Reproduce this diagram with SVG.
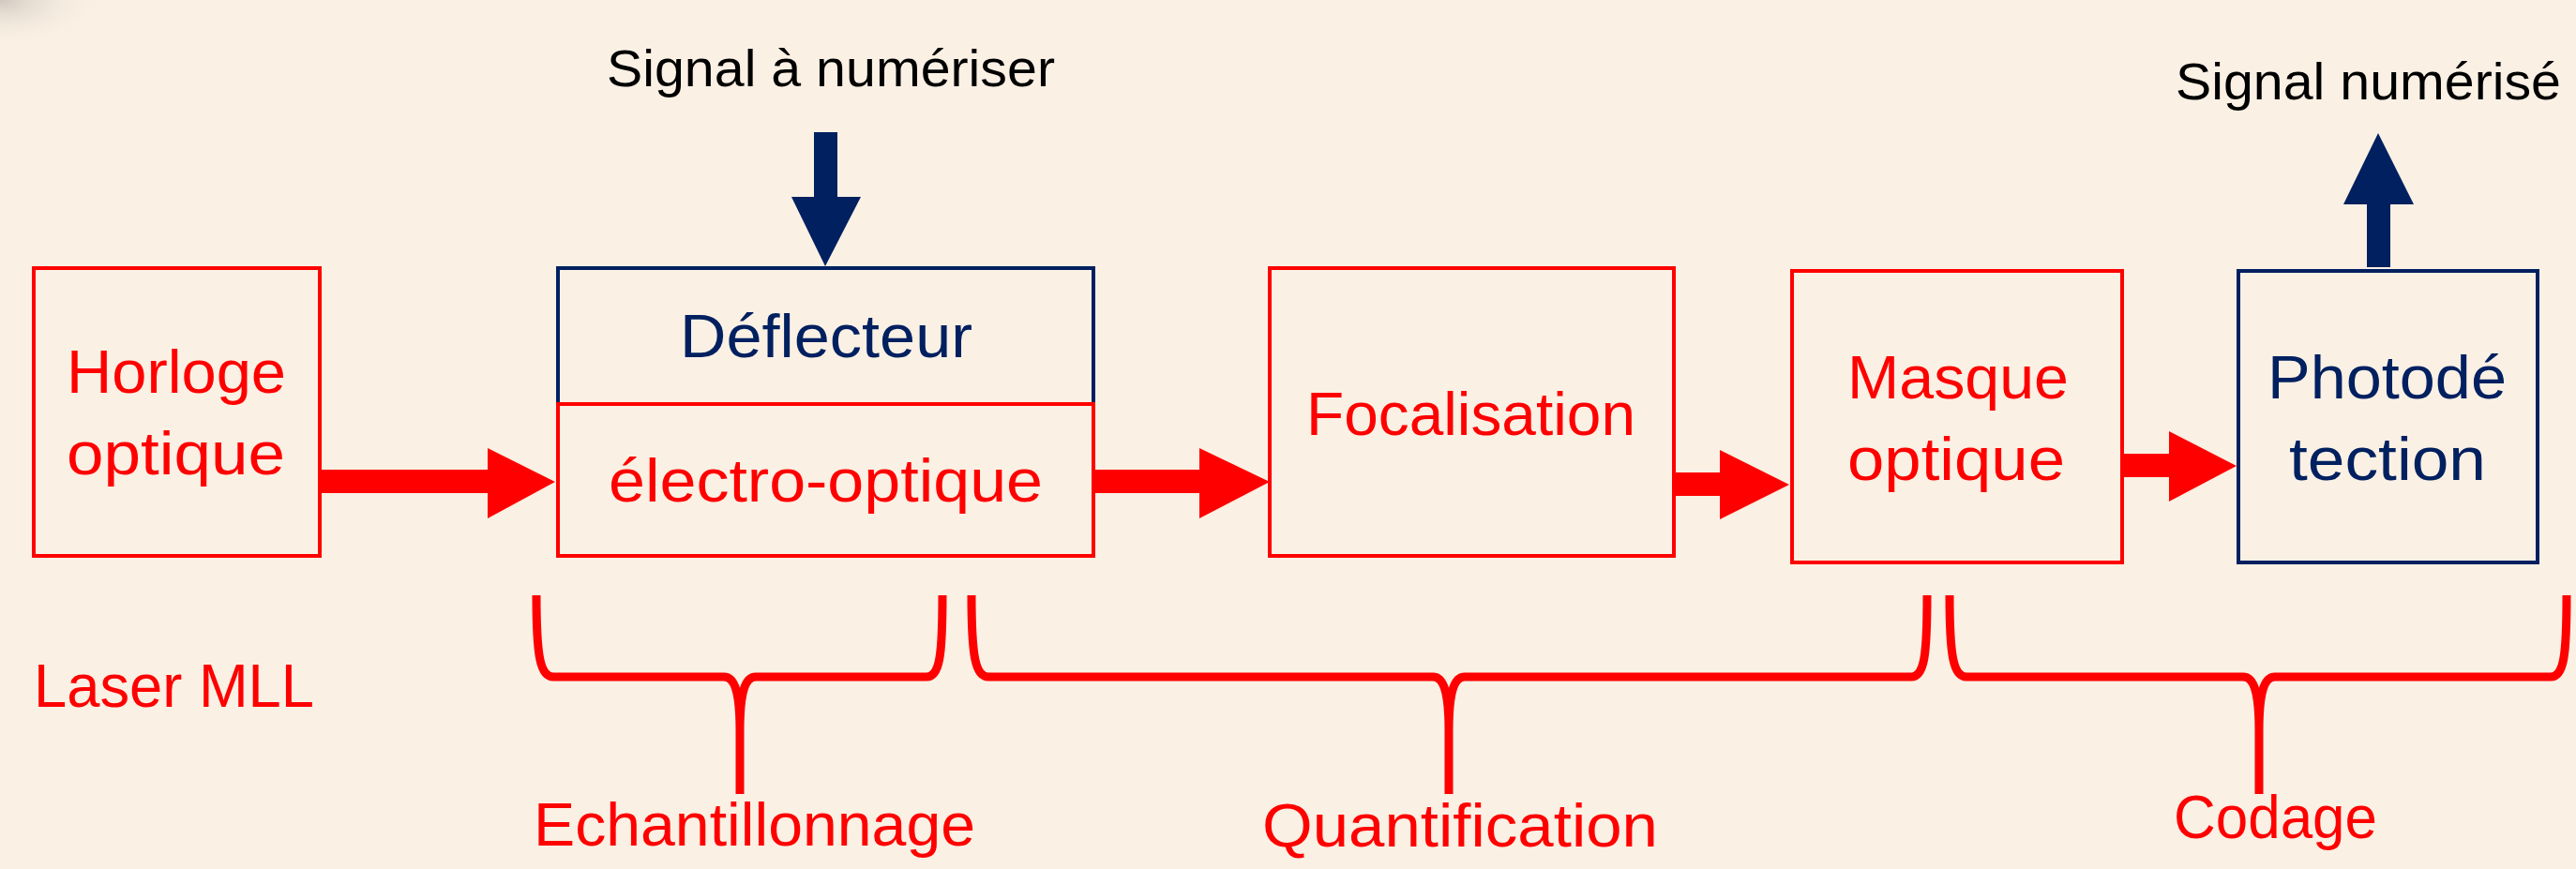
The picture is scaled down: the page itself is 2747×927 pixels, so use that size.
<svg xmlns="http://www.w3.org/2000/svg" width="2747" height="927" viewBox="0 0 2747 927">
<defs>
<style>
.r{fill:none;stroke:#FF0000;stroke-width:4}
.n{fill:none;stroke:#002060;stroke-width:4}
.t{font-family:"Liberation Sans",Arial,sans-serif;font-size:65px}
.s{font-family:"Liberation Sans",Arial,sans-serif;font-size:55px;fill:#000}
.red{fill:#FF0000}
.navy{fill:#002060}
.brace{fill:none;stroke:#FF0000;stroke-width:9;stroke-linejoin:round}
</style>
<radialGradient id="sh" cx="0" cy="0" r="1">
<stop offset="0" stop-color="#d0c8c0"/>
<stop offset="1" stop-color="#FAF0E4" stop-opacity="0"/>
</radialGradient>
</defs>
<rect width="2747" height="927" fill="#FAF0E4"/>
<rect x="0" y="0" width="110" height="50" fill="url(#sh)"/>

<g id="connectors">
<polygon class="red" points="341,501 520,501 520,478 592,514 520,553 520,526 341,526"/>
<polygon class="red" points="1166,501 1279,501 1279,478 1354,514 1279,553 1279,526 1166,526"/>
<polygon class="red" points="1784,504 1834,504 1834,480 1908,517 1834,554 1834,529 1784,529"/>
<polygon class="red" points="2263,484 2313,484 2313,460 2385,497 2313,535 2313,509 2263,509"/>
<polygon class="navy" points="868,141 893,141 893,210 918,210 880,284 844,210 868,210"/>
<polygon class="navy" points="2524,285 2549,285 2549,218 2574,218 2536,142 2499,218 2524,218"/>
</g>

<g id="signal-in"><text class="s" x="647" y="92" textLength="478" lengthAdjust="spacingAndGlyphs">Signal à numériser</text></g>
<g id="signal-out"><text class="s" x="2320" y="106" textLength="411" lengthAdjust="spacingAndGlyphs">Signal numérisé</text></g>

<g id="horloge">
<rect class="r" x="36" y="286" width="305" height="307"/>
<text class="t red" x="71" y="419" textLength="234" lengthAdjust="spacingAndGlyphs">Horloge</text>
<text class="t red" x="71" y="506" textLength="233" lengthAdjust="spacingAndGlyphs">optique</text>
</g>

<g id="deflecteur">
<rect class="n" x="595" y="286" width="571" height="145"/>
<rect class="r" x="595" y="431" width="571" height="162"/>
<text class="t navy" x="725" y="381" textLength="312" lengthAdjust="spacingAndGlyphs">Déflecteur</text>
<text class="t red" x="649" y="535" textLength="463" lengthAdjust="spacingAndGlyphs">électro-optique</text>
</g>

<g id="focalisation">
<rect class="r" x="1354" y="286" width="431" height="307"/>
<text class="t red" x="1393" y="464" textLength="351" lengthAdjust="spacingAndGlyphs">Focalisation</text>
</g>

<g id="masque">
<rect class="r" x="1911" y="289" width="352" height="311"/>
<text class="t red" x="1970" y="425" textLength="236" lengthAdjust="spacingAndGlyphs">Masque</text>
<text class="t red" x="1970" y="512" textLength="232" lengthAdjust="spacingAndGlyphs">optique</text>
</g>

<g id="photodetection">
<rect class="n" x="2387" y="289" width="319" height="311"/>
<text class="t navy" x="2418" y="425" textLength="255" lengthAdjust="spacingAndGlyphs">Photodé</text>
<text class="t navy" x="2441" y="512" textLength="210" lengthAdjust="spacingAndGlyphs">tection</text>
</g>

<g id="laser"><text class="t red" x="36" y="754" textLength="299" lengthAdjust="spacingAndGlyphs">Laser MLL</text></g>

<g id="echantillonnage">
<path class="brace" d="M572,635 C572,700 576,722 590,722 L772,722 C784,722 789,740 789,780 L789,847 M789,780 C789,740 794,722 806,722 L988,722 C1002,722 1005,700 1005,635"/>
<text class="t red" x="569" y="902" textLength="471" lengthAdjust="spacingAndGlyphs">Echantillonnage</text>
</g>

<g id="quantification">
<path class="brace" d="M1036,635 C1036,700 1040,722 1054,722 L1528,722 C1540,722 1545,740 1545,780 L1545,847 M1545,780 C1545,740 1550,722 1562,722 L2038,722 C2052,722 2055,700 2055,635"/>
<text class="t red" x="1346" y="903" textLength="422" lengthAdjust="spacingAndGlyphs">Quantification</text>
</g>

<g id="codage">
<path class="brace" d="M2079,635 C2079,700 2083,722 2097,722 L2392,722 C2404,722 2409,740 2409,780 L2409,847 M2409,780 C2409,740 2414,722 2426,722 L2720,722 C2734,722 2737,700 2737,635"/>
<text class="t red" x="2318" y="894" textLength="217" lengthAdjust="spacingAndGlyphs">Codage</text>
</g>
</svg>
